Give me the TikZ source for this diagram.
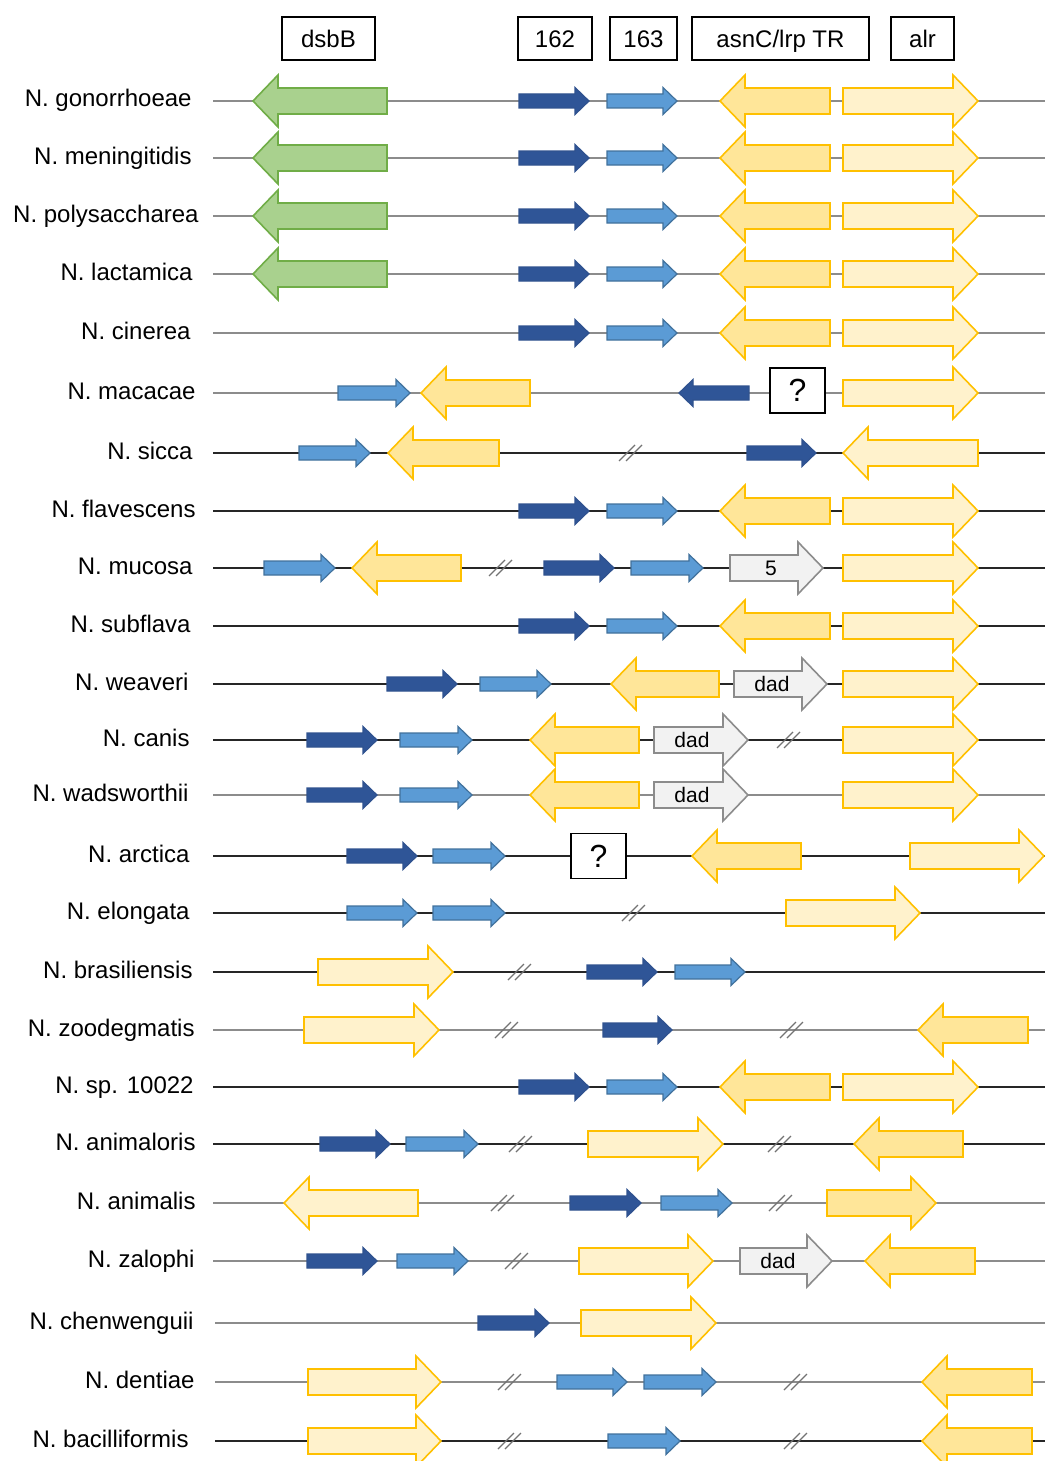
\documentclass[tikz,border=0pt]{standalone}
\usepackage{fontspec}
\setmainfont{Liberation Sans}
\usepackage{tikz}
\usetikzlibrary{calc}

\definecolor{dsbfill}{HTML}{A9D18E}
\definecolor{dsbline}{HTML}{70AD47}
\definecolor{darkfill}{HTML}{2F5597}
\definecolor{darkline}{HTML}{2F528F}
\definecolor{lightfill}{HTML}{5B9BD5}
\definecolor{lightline}{HTML}{41719C}
\definecolor{trfill}{HTML}{FFE699}
\definecolor{alrfill}{HTML}{FFF2CC}
\definecolor{yline}{HTML}{FFC000}
\definecolor{otherfill}{HTML}{F2F2F2}
\definecolor{otherline}{HTML}{8C8C8C}
\definecolor{rowgray}{HTML}{8C8C8C}
\definecolor{rowdark}{HTML}{262626}

% big gene arrows: style, left/tip, tip/right, y
\newcommand{\geneR}[4]{\draw[#1] (#2,#4-13) -- (#3-25,#4-13) -- (#3-25,#4-26) -- (#3,#4)
  -- (#3-25,#4+26) -- (#3-25,#4+13) -- (#2,#4+13) -- cycle;}
\newcommand{\geneL}[4]{\draw[#1] (#2,#4) -- (#2+25,#4-26) -- (#2+25,#4-13) -- (#3,#4-13)
  -- (#3,#4+13) -- (#2+25,#4+13) -- (#2+25,#4+26) -- cycle;}
% small ORF arrows
\newcommand{\orfR}[4]{\draw[#1] (#2,#4-7) -- (#3-14,#4-7) -- (#3-14,#4-13.5) -- (#3,#4)
  -- (#3-14,#4+13.5) -- (#3-14,#4+7) -- (#2,#4+7) -- cycle;}
\newcommand{\orfL}[4]{\draw[#1] (#2,#4) -- (#2+14,#4-13.5) -- (#2+14,#4-7) -- (#3,#4-7)
  -- (#3,#4+7) -- (#2+14,#4+7) -- (#2+14,#4+13.5) -- cycle;}
% break in the sequence
\newcommand{\brk}[2]{\draw[brkline] (#1-12,#2+8) -- (#1+4,#2-8) (#1-5,#2+8) -- (#1+11,#2-8);}

\tikzset{
  splabel/.style={anchor=base east, inner sep=0pt, font=\fontsize{12}{14}\selectfont},
  backbone/.style={line width=0.75pt},
  brkline/.style={gray!90!black, line width=0.6pt},
  dsbgene/.style={fill=dsbfill, draw=dsbline, line width=0.8pt},
  darkgene/.style={fill=darkfill, draw=darkline, line width=0.6pt},
  lightgene/.style={fill=lightfill, draw=lightline, line width=0.6pt},
  trgene/.style={fill=trfill, draw=yline, line width=0.8pt},
  alrgene/.style={fill=alrfill, draw=yline, line width=0.8pt},
  othergene/.style={fill=otherfill, draw=otherline, line width=0.8pt},
  headbox/.style={draw, line width=0.6pt, minimum height=21.5pt, inner sep=0pt,
    text height=8.6pt, text depth=0pt, font=\fontsize{12}{14}\selectfont},
  qbox/.style={draw, fill=white, line width=0.6pt, minimum width=27.5pt, minimum height=22.5pt,
    inner sep=0pt, font=\fontsize{16}{18}\selectfont},
  otherlabel/.style={inner sep=0pt, font=\fontsize{10.5}{12}\selectfont}
}

\begin{document}
\begin{tikzpicture}[x=0.5pt, y=-0.5pt]
  \useasboundingbox (0,0) rectangle (1045,1461);

  % gene names
  \node[headbox, minimum width=46.5pt] (dsbB) at (328.5,38.5) {dsbB};
  \node[headbox, minimum width=37pt] (g162) at (555,38.5) {162};
  \node[headbox, minimum width=33.5pt] (g163) at (643.5,38.5) {163};
  \node[headbox, minimum width=88.5pt] (asnC) at (780.5,38.5) {asnC/lrp TR};
  \node[headbox, minimum width=31.5pt] (alr) at (922.5,38.5) {alr};

  % species and backbones
  \foreach \y/\sp/\lc/\xs/\xr [count=\i] in {101/gonorrhoeae/rowgray/213/192,
      158/meningitidis/rowgray/213/192, 216/polysaccharea/rowgray/213/199,
      274/lactamica/rowgray/213/193, 333/cinerea/rowgray/213/191,
      393/macacae/rowgray/213/196, 453/sicca/rowdark/213/193, 511/flavescens/rowdark/213/196,
      568/mucosa/rowdark/213/193, 626/subflava/rowdark/213/191, 684/weaveri/rowdark/213/189,
      740/canis/rowdark/213/190, 795/wadsworthii/rowgray/213/189, 856/arctica/rowdark/213/190,
      913/elongata/rowdark/213/190, 972/brasiliensis/rowdark/213/193,
      1030/zoodegmatis/rowgray/213/195, 1087/sp. 10022/rowdark/213/194,
      1144/animaloris/rowdark/213/196, 1203/animalis/rowgray/213/196,
      1261/zalophi/rowgray/213/195, 1323/chenwenguii/rowgray/215/194,
      1382/dentiae/rowgray/215/195, 1441/bacilliformis/rowdark/215/189} {
    \node[splabel] (sp\i) at (\xr,\y+6) {N. \sp};
    \draw[backbone, \lc] (\xs,\y) -- (1045,\y);
  }

  % dsbB rows
  \foreach \y in {101,158,216,274} {
    \geneL{dsbgene}{253}{387}{\y}
  }
  % conserved 162-163-asnC-alr block
  \foreach \y in {101,158,216,274,333,511,626,1087} {
    \orfR{darkgene}{519}{589}{\y}
    \orfR{lightgene}{607}{677}{\y}
    \geneL{trgene}{720}{830}{\y}
    \geneR{alrgene}{843}{978}{\y}
  }

  % macacae
  \orfR{lightgene}{338}{410}{393}
  \geneL{trgene}{421}{530}{393}
  \orfL{darkgene}{679}{749}{393}
  \node[qbox] (q1) at (797.5,390.5) {?};
  \geneR{alrgene}{843}{978}{393}

  % sicca
  \orfR{lightgene}{299}{370}{453}
  \geneL{trgene}{388}{499}{453}
  \brk{631}{453}
  \orfR{darkgene}{747}{816}{453}
  \geneL{alrgene}{843}{978}{453}

  % mucosa
  \orfR{lightgene}{264}{335}{568}
  \geneL{trgene}{352}{461}{568}
  \brk{501}{568}
  \orfR{darkgene}{544}{614}{568}
  \orfR{lightgene}{631}{703}{568}
  \geneR{othergene}{730}{823}{568}
  \node[otherlabel] (five) at (771,568) {5};
  \geneR{alrgene}{843}{978}{568}

  % weaveri
  \orfR{darkgene}{387}{457}{684}
  \orfR{lightgene}{480}{551}{684}
  \geneL{trgene}{611}{719}{684}
  \geneR{othergene}{734}{827}{684}
  \node[otherlabel] (dad1) at (772,684) {dad};
  \geneR{alrgene}{843}{978}{684}

  % canis, wadsworthii
  \foreach \y/\j in {740/2,795/3} {
    \orfR{darkgene}{307}{377}{\y}
    \orfR{lightgene}{400}{472}{\y}
    \geneL{trgene}{530}{639}{\y}
    \geneR{othergene}{654}{748}{\y}
    \node[otherlabel] (dad\j) at (692,\y) {dad};
    \geneR{alrgene}{843}{978}{\y}
  }
  \brk{789}{740}

  % arctica
  \orfR{darkgene}{347}{417}{856}
  \orfR{lightgene}{433}{505}{856}
  \node[qbox] (q2) at (598.5,856) {?};
  \geneL{trgene}{692}{801}{856}
  \geneR{alrgene}{910}{1044}{856}

  % elongata
  \orfR{lightgene}{347}{417}{913}
  \orfR{lightgene}{433}{505}{913}
  \brk{634}{913}
  \geneR{alrgene}{786}{920}{913}

  % brasiliensis
  \geneR{alrgene}{318}{453}{972}
  \brk{520}{972}
  \orfR{darkgene}{587}{657}{972}
  \orfR{lightgene}{675}{745}{972}

  % zoodegmatis
  \geneR{alrgene}{304}{439}{1030}
  \brk{507}{1030}
  \orfR{darkgene}{603}{672}{1030}
  \brk{792}{1030}
  \geneL{trgene}{918}{1028}{1030}

  % animaloris
  \orfR{darkgene}{320}{390}{1144}
  \orfR{lightgene}{406}{478}{1144}
  \brk{521}{1144}
  \geneR{alrgene}{588}{723}{1144}
  \brk{780}{1144}
  \geneL{trgene}{854}{963}{1144}

  % animalis
  \geneL{alrgene}{284}{418}{1203}
  \brk{503}{1203}
  \orfR{darkgene}{570}{641}{1203}
  \orfR{lightgene}{661}{732}{1203}
  \brk{781}{1203}
  \geneR{trgene}{827}{936}{1203}

  % zalophi
  \orfR{darkgene}{307}{377}{1261}
  \orfR{lightgene}{397}{468}{1261}
  \brk{517}{1261}
  \geneR{alrgene}{579}{713}{1261}
  \geneR{othergene}{740}{832}{1261}
  \node[otherlabel] (dad4) at (778,1261) {dad};
  \geneL{trgene}{865}{975}{1261}

  % chenwenguii
  \orfR{darkgene}{478}{549}{1323}
  \geneR{alrgene}{581}{716}{1323}

  % dentiae
  \geneR{alrgene}{308}{441}{1382}
  \brk{510}{1382}
  \orfR{lightgene}{557}{627}{1382}
  \orfR{lightgene}{644}{716}{1382}
  \brk{796}{1382}
  \geneL{trgene}{922}{1032}{1382}

  % bacilliformis
  \geneR{alrgene}{308}{441}{1441}
  \brk{510}{1441}
  \orfR{lightgene}{608}{680}{1441}
  \brk{796}{1441}
  \geneL{trgene}{922}{1032}{1441}
\end{tikzpicture}
\end{document}
